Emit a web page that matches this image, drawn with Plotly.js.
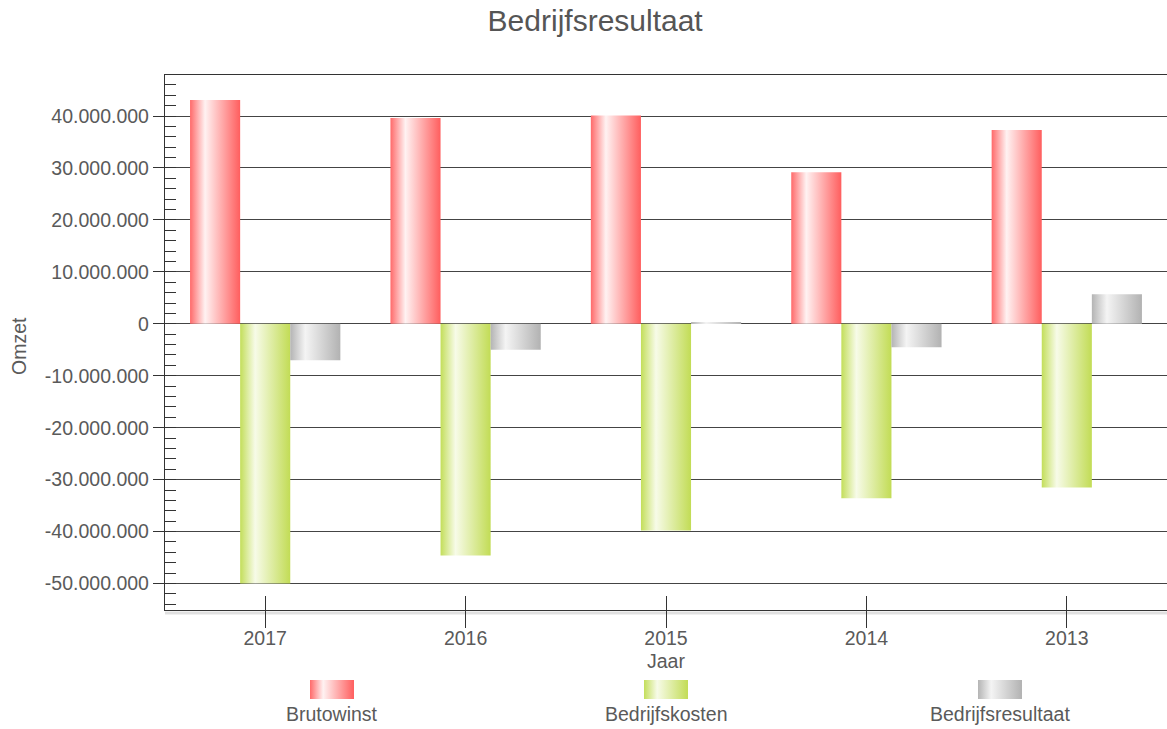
<!DOCTYPE html>
<html>
<head>
<meta charset="utf-8">
<script src="https://cdn.plot.ly/plotly-3.0.1.min.js"></script>
<style>
  html, body { margin: 0; padding: 0; background: #fff; }
  #chart { width: 1167px; height: 729px; }
</style>
</head>
<body>
<div id="chart"></div>
<script>
// ---- Data ----
const categories = ['2017', '2016', '2015', '2014', '2013'];
const brutowinst = [43100000, 39600000, 40100000, 29200000, 37300000];
const bedrijfskosten = [-50000000, -44600000, -39800000, -33600000, -31500000];
const bedrijfsresultaat = [-7000000, -5000000, 200000, -4500000, 5700000];
const seriesNames = ['Brutowinst', 'Bedrijfskosten', 'Bedrijfsresultaat'];
const yTickVals = [40000000, 30000000, 20000000, 10000000, 0, -10000000, -20000000, -30000000, -40000000, -50000000];
const yTickText = ['40.000.000', '30.000.000', '20.000.000', '10.000.000', '0', '-10.000.000', '-20.000.000', '-30.000.000', '-40.000.000', '-50.000.000'];

// ---- Styles ----
const gradients = [
  ['#ff6a6a', '#fff2f2', '#ff5e5e'],
  ['#c3de5a', '#f7fbe8', '#c2dc55'],
  ['#b4b4b4', '#f4f4f4', '#b2b2b2']
];
const baseColors = ['#ff6666', '#c3de5a', '#b4b4b4'];
const textColor = '#5a5a5a';
const gridColor = '#444444';
const fontFamily = 'Liberation Sans, Arial, sans-serif';
const fs = 19.5;

const seriesValues = [brutowinst, bedrijfskosten, bedrijfsresultaat];
const traces = seriesValues.map((vals, i) => ({
  type: 'bar',
  name: seriesNames[i],
  x: categories,
  y: vals,
  marker: { color: baseColors[i], line: { width: 0 } },
  hoverinfo: 'x+y+name',
  showlegend: false
}));
// empty helper trace so the overlaying tick axis (x2) is drawn
traces.push({
  type: 'scatter', mode: 'markers', x: [], y: [],
  xaxis: 'x2', yaxis: 'y', showlegend: false, hoverinfo: 'skip'
});

const legendCenters = [1/6, 0.5, 5/6];
const swW = 0.0439;
const shapes = legendCenters.map((c, i) => ({
  type: 'rect', xref: 'paper', yref: 'paper',
  x0: c - swW / 2, x1: c + swW / 2, y0: -0.1664, y1: -0.1308,
  fillcolor: baseColors[i], line: { width: 0 }, layer: 'above'
}));
// subtle shadow beneath the bottom axis line
shapes.push({
  type: 'line', xref: 'paper', yref: 'paper',
  x0: 0, x1: 1, y0: -0.0055, y1: -0.0055,
  line: { color: 'rgba(0,0,0,0.12)', width: 3 }, layer: 'below'
});

const annotations = legendCenters.map((c, i) => ({
  xref: 'paper', yref: 'paper', x: c, y: -0.1935,
  xanchor: 'center', yanchor: 'middle', showarrow: false,
  text: seriesNames[i], font: { family: fontFamily, size: fs, color: textColor }
}));
annotations.push({
  xref: 'paper', yref: 'paper', x: 0.5, y: -0.0953,
  xanchor: 'center', yanchor: 'middle', showarrow: false,
  text: 'Jaar', font: { family: fontFamily, size: fs, color: textColor }
});
annotations.push({
  xref: 'paper', yref: 'paper', x: -0.1457, y: 0.4935,
  xanchor: 'center', yanchor: 'middle', showarrow: false, textangle: -90,
  text: 'Omzet', font: { family: fontFamily, size: fs, color: textColor }
});

const layout = {
  width: 1167, height: 729,
  margin: { l: 165, r: 0, t: 75, b: 119, pad: 0 },
  paper_bgcolor: '#ffffff', plot_bgcolor: '#ffffff',
  font: { family: fontFamily, size: fs, color: textColor },
  title: {
    text: 'Bedrijfsresultaat',
    font: { family: fontFamily, size: 30, color: '#555555' },
    xref: 'container', x: 0.51, xanchor: 'center',
    yref: 'container', y: 0.972, yanchor: 'middle'
  },
  barmode: 'group', bargap: 0.25, bargroupgap: 0,
  showlegend: false,
  xaxis: {
    type: 'category',
    showline: true, linecolor: '#333333', linewidth: 1.3, mirror: true,
    ticks: 'inside', ticklen: 14, tickcolor: '#333333', tickwidth: 1,
    ticklabelstandoff: 10,
    showgrid: false, zeroline: false,
    tickfont: { family: fontFamily, size: fs, color: textColor },
    fixedrange: true
  },
  xaxis2: {
    overlaying: 'x', anchor: 'y', side: 'bottom',
    type: 'linear', range: [-0.5, 4.5], autorange: false,
    tickmode: 'array', tickvals: [0, 1, 2, 3, 4],
    ticks: 'outside', ticklen: 17, tickcolor: '#333333', tickwidth: 1,
    showticklabels: false, showgrid: false, zeroline: false, showline: false,
    fixedrange: true
  },
  yaxis: {
    range: [-55100000, 47900000], autorange: false,
    tickmode: 'array', tickvals: yTickVals, ticktext: yTickText,
    showline: true, linecolor: '#333333', linewidth: 1.3,
    ticks: 'outside', ticklen: 11, tickcolor: '#333333', tickwidth: 1,
    showgrid: true, gridcolor: gridColor, gridwidth: 1,
    zeroline: true, zerolinecolor: gridColor, zerolinewidth: 1,
    tickfont: { family: fontFamily, size: fs, color: textColor },
    minor: {
      tickmode: 'linear', tick0: 0, dtick: 2000000,
      ticks: 'inside', ticklen: 11, tickcolor: '#333333', tickwidth: 1,
      showgrid: false
    },
    fixedrange: true
  },
  shapes: shapes,
  annotations: annotations
};

const gd = document.getElementById('chart');

function applyGradients() {
  const svg = gd.querySelector('svg.main-svg');
  if (!svg) return;
  const NS = 'http://www.w3.org/2000/svg';
  let defs = svg.querySelector('defs');
  if (!defs) { defs = document.createElementNS(NS, 'defs'); svg.insertBefore(defs, svg.firstChild); }
  gradients.forEach((stops, i) => {
    if (document.getElementById('barGrad' + i)) return;
    const lg = document.createElementNS(NS, 'linearGradient');
    lg.setAttribute('id', 'barGrad' + i);
    lg.setAttribute('x1', '0'); lg.setAttribute('y1', '0');
    lg.setAttribute('x2', '1'); lg.setAttribute('y2', '0');
    const offs = ['0', '0.3', '1'];
    stops.forEach((col, k) => {
      const s = document.createElementNS(NS, 'stop');
      s.setAttribute('offset', offs[k]);
      s.setAttribute('stop-color', col);
      lg.appendChild(s);
    });
    defs.appendChild(lg);
  });
  gd.querySelectorAll('.barlayer .trace').forEach((t, i) => {
    t.querySelectorAll('path').forEach(p => { p.style.fill = 'url(#barGrad' + i + ')'; });
  });
  gd.querySelectorAll('.shapelayer path[data-index]').forEach(p => {
    const idx = +p.getAttribute('data-index');
    if (idx < 3) p.style.fill = 'url(#barGrad' + idx + ')';
  });
}

Plotly.newPlot(gd, traces, layout, { displayModeBar: false, responsive: false }).then(() => {
  applyGradients();
  gd.on('plotly_afterplot', applyGradients);
});
</script>
</body>
</html>
